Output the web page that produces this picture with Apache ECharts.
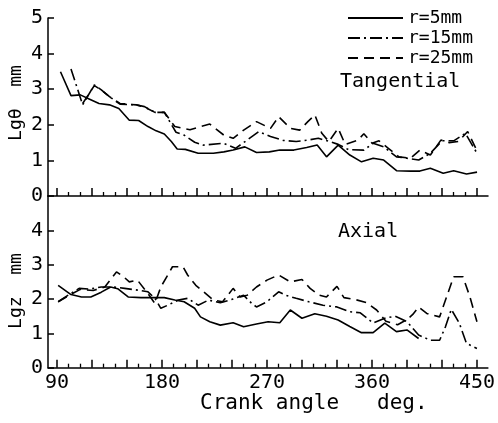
<!DOCTYPE html>
<html><head><meta charset="utf-8">
<script src="https://cdn.jsdelivr.net/npm/echarts@6/dist/echarts.min.js"></script>
<style>html,body{margin:0;padding:0;background:#fff}#c{width:498px;height:423px}</style>
</head><body><div id="c"></div>
<script>
const seriesNames = ['r=5mm', 'r=15mm', 'r=25mm'];
const majorTicks = [90,120,150,180,210,240,270,300,330,360,390,420,450];
const minorTicks = [100,110,130,140,160,170,190,200,220,230,250,260,280,290,310,320,340,350,370,380,400,410,430,440];
const xLabels = [90,180,270,360,450];

// Tangential panel (Lgθ)
const tanAngleR5 = [93,102,110,118,126,135,143,152,160,168,175,182,188,193,200,211,224,233,241,251,261,272,281,293,304,313,321,331,341,351,361,370,381,393,401,410,421,430,441,450];
const tanR5 = [3.49,2.82,2.84,2.72,2.6,2.56,2.46,2.13,2.12,1.95,1.83,1.74,1.53,1.32,1.31,1.2,1.2,1.24,1.29,1.38,1.22,1.24,1.29,1.29,1.36,1.43,1.1,1.43,1.15,0.96,1.06,1.01,0.71,0.7,0.7,0.78,0.64,0.71,0.62,0.67];
const tanAngleR15 = [102,112,122,128,135,144,158,165,174,182,192,199,208,215,233,243,253,263,273,284,295,305,314,324,331,340,353,361,370,381,390,400,410,420,430,440,450];
const tanR15 = [3.57,2.56,3.12,2.98,2.79,2.58,2.56,2.51,2.35,2.35,1.79,1.71,1.51,1.43,1.48,1.34,1.57,1.81,1.67,1.56,1.53,1.57,1.62,1.53,1.45,1.3,1.29,1.48,1.38,1.1,1.06,1.01,1.2,1.55,1.55,1.76,1.2];
const tanAngleR25 = [112,122,128,135,144,158,165,174,182,191,204,213,221,233,241,250,261,273,280,290,298,305,311,317,323,331,337,348,353,360,366,374,383,393,401,410,419,426,434,442,451];
const tanR25 = [2.6,3.1,2.98,2.79,2.6,2.56,2.5,2.35,2.35,1.95,1.86,1.95,2.02,1.71,1.62,1.85,2.09,1.9,2.23,1.9,1.85,2.09,2.28,1.76,1.53,1.9,1.45,1.57,1.75,1.48,1.55,1.34,1.1,1.06,1.29,1.15,1.57,1.5,1.53,1.81,1.2];

// Axial panel (Lgz)
const axAngleR5 = [91,102,111,119,128,136,142,151,162,174,182,191,199,208,213,221,230,241,250,261,271,281,290,300,311,321,331,341,351,361,371,381,390,400];
const axR5 = [2.4,2.13,2.06,2.06,2.2,2.35,2.3,2.06,2.04,2.04,2.04,1.97,1.92,1.73,1.48,1.34,1.24,1.31,1.19,1.27,1.34,1.31,1.68,1.44,1.57,1.5,1.39,1.2,1.02,1.02,1.3,1.05,1.1,0.85];
const axAngleR15 = [91,100,109,118,128,138,148,159,168,174,179,185,194,202,211,220,230,240,250,257,261,270,280,286,295,306,318,330,341,350,361,371,380,390,400,410,418,423,428,435,441,450];
const axR15 = [1.92,2.12,2.31,2.29,2.35,2.35,2.31,2.26,2.21,2.02,1.73,1.82,1.97,2.02,1.82,1.97,1.89,1.99,2.11,1.87,1.77,1.92,2.21,2.11,2.02,1.92,1.82,1.77,1.63,1.6,1.3,1.44,1.5,1.34,0.95,0.8,0.8,1.19,1.7,1.29,0.71,0.56];
const axAngleR25 = [91,100,110,121,131,141,147,152,159,169,174,179,185,189,198,202,209,214,224,232,241,247,253,261,270,280,290,300,307,315,321,330,336,345,355,364,372,382,390,395,400,407,418,425,430,438,444,450];
const axR25 = [1.92,2.1,2.28,2.25,2.35,2.79,2.65,2.5,2.55,2.11,1.87,2.35,2.7,2.94,2.94,2.7,2.4,2.26,1.97,1.92,2.31,2.06,2.11,2.35,2.55,2.7,2.5,2.57,2.31,2.11,2.06,2.37,2.04,1.99,1.9,1.68,1.35,1.25,1.4,1.55,1.77,1.58,1.48,2.16,2.65,2.65,2.06,1.34];

const FONT = '"DejaVu Sans Mono", monospace';
const pairs = (xs, ys) => xs.map((x, i) => [x, ys[i]]);
const dashTypes = ['solid', [12, 4, 2, 4], [10, 6]];

function xAxisPair(gridIndex, showLabels) {
  const base = {
    type: 'value', gridIndex, min: 82.3, max: 459.4, position: 'bottom',
    splitLine: { show: false },
    axisLine: { onZero: false, lineStyle: { color: '#000', width: 1.5 } }
  };
  return [
    Object.assign({}, base, {
      axisTick: { inside: true, length: 8, customValues: majorTicks, lineStyle: { color: '#000', width: 1.5 } },
      axisLabel: { show: showLabels, customValues: xLabels, color: '#000', fontFamily: FONT, fontSize: 20, margin: 5 }
    }),
    Object.assign({}, base, {
      axisLine: { show: false, onZero: false },
      axisTick: { inside: true, length: 4, customValues: minorTicks, lineStyle: { color: '#000', width: 1.3 } },
      axisLabel: { show: false }
    })
  ];
}
function yAxis(gridIndex, hideTop) {
  return {
    type: 'value', gridIndex, min: 0, max: 5, interval: 1,
    splitLine: { show: false },
    axisLine: { onZero: false, lineStyle: { color: '#000', width: 1.5 } },
    axisTick: { inside: true, length: 6, lineStyle: { color: '#000', width: 1.5 } },
    axisLabel: { color: '#000', fontFamily: FONT, fontSize: 20, margin: 5,
      formatter: v => (hideTop && v === 5) ? '' : String(v) }
  };
}
function lineSeries(name, xi, yi, data, k) {
  return {
    name, type: 'line', xAxisIndex: xi, yAxisIndex: yi, data, symbol: 'none',
    lineStyle: { color: '#000', width: 1.6, type: dashTypes[k] },
    itemStyle: { color: '#000' }, z: 3, animation: false
  };
}

const chart = echarts.init(document.getElementById('c'));
chart.setOption({
  backgroundColor: '#fff',
  animation: false,
  grid: [
    { left: 48, right: 10, top: 18, height: 178 },
    { left: 48, right: 10, top: 196, height: 171.7 }
  ],
  xAxis: [].concat(xAxisPair(0, false), xAxisPair(1, true)),
  yAxis: [yAxis(0, false), yAxis(1, true)],
  legend: {
    orient: 'vertical', left: 342, top: 4, itemWidth: 55, itemHeight: 14, itemGap: 2,
    data: seriesNames,
    itemStyle: { color: 'rgba(0,0,0,0)', borderColor: 'rgba(0,0,0,0)', borderWidth: 0, opacity: 0 },
    textStyle: { color: '#000', fontFamily: FONT, fontSize: 18, lineHeight: 18 }
  },
  graphic: [
    { type: 'text', left: 340, top: 72, style: { text: 'Tangential', font: '20px ' + FONT, fill: '#000' } },
    { type: 'text', left: 338, top: 222, style: { text: 'Axial', font: '20px ' + FONT, fill: '#000' } },
    { type: 'text', left: 200, top: 393, style: { text: 'Crank angle   deg.', font: '21px ' + FONT, fill: '#000' } },
    { type: 'text', x: 16, y: 103, rotation: Math.PI / 2,
      style: { text: 'Lgθ  mm', font: '18px ' + FONT, fill: '#000', align: 'center', verticalAlign: 'middle' } },
    { type: 'text', x: 16, y: 291, rotation: Math.PI / 2,
      style: { text: 'Lgz  mm', font: '18px ' + FONT, fill: '#000', align: 'center', verticalAlign: 'middle' } }
  ],
  series: [
    lineSeries(seriesNames[0], 0, 0, pairs(tanAngleR5, tanR5), 0),
    lineSeries(seriesNames[1], 0, 0, pairs(tanAngleR15, tanR15), 1),
    lineSeries(seriesNames[2], 0, 0, pairs(tanAngleR25, tanR25), 2),
    lineSeries(seriesNames[0], 2, 1, pairs(axAngleR5, axR5), 0),
    lineSeries(seriesNames[1], 2, 1, pairs(axAngleR15, axR15), 1),
    lineSeries(seriesNames[2], 2, 1, pairs(axAngleR25, axR25), 2)
  ]
});
</script></body></html>
